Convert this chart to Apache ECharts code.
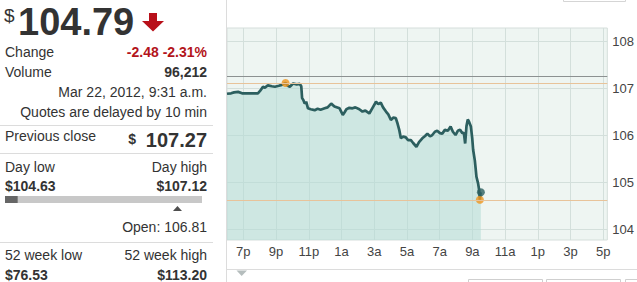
<!DOCTYPE html>
<html><head><meta charset="utf-8">
<script src="https://cdn.jsdelivr.net/npm/echarts@6/dist/echarts.min.js"></script>
<style>html,body{margin:0;padding:0;background:#fff;overflow:hidden}#c{width:637px;height:282px}</style>
</head><body><div id="c"></div>
<script>
// hours since 6p (Mar 21) -> price
const priceTimes = [0.00,0.25,0.43,0.68,0.92,1.41,1.89,2.02,2.20,2.32,2.50,2.74,2.93,3.17,3.35,3.58,3.72,3.84,4.04,4.26,4.45,4.54,4.59,4.66,4.75,4.84,4.95,5.12,5.36,5.54,5.72,5.97,6.15,6.37,6.57,6.88,7.08,7.18,7.30,7.48,7.67,7.85,8.09,8.28,8.46,8.70,8.88,9.11,9.25,9.40,9.54,9.72,9.86,10.02,10.16,10.32,10.43,10.53,10.63,10.77,10.93,11.07,11.24,11.38,11.58,11.74,11.94,12.11,12.25,12.41,12.55,12.71,12.85,13.02,13.16,13.32,13.50,13.67,13.81,13.97,14.11,14.25,14.39,14.48,14.56,14.64,14.72,14.79,14.91,14.99,15.05,15.15,15.20,15.25,15.35,15.41,15.46,15.49,15.52];
const prices = [106.89,106.90,106.92,106.93,106.90,106.90,106.90,106.95,107.04,107.02,107.07,107.05,107.04,107.06,107.08,107.12,107.06,107.04,107.11,107.09,107.10,107.05,106.80,106.76,106.68,106.72,106.58,106.56,106.54,106.57,106.55,106.58,106.60,106.68,106.62,106.58,106.44,106.49,106.56,106.59,106.58,106.60,106.56,106.51,106.53,106.47,106.58,106.72,106.67,106.70,106.60,106.51,106.45,106.33,106.38,106.37,106.25,106.12,105.94,105.98,105.96,105.90,105.90,105.84,105.76,105.86,105.94,105.99,106.04,105.98,106.01,106.08,106.10,106.05,106.04,106.12,106.10,106.19,106.08,106.01,106.10,106.12,106.05,106.06,105.83,106.20,106.34,106.30,106.19,105.95,105.69,105.47,105.30,105.12,104.98,104.85,104.63,104.76,104.79];
const xTickHours = [1,3,5,7,9,11,13,15,17,19,21,23];
const xTickLabels = ['7p','9p','11p','1a','3a','5a','7a','9a','11a','1p','3p','5p'];
const yTicks = [104,105,106,107,108];
const lastPrice = 104.79, lastTime = 15.52;
const prevClose = 107.27;
const dayLow = 104.63, dayLowTime = 15.46;
const dayHigh = 107.12, dayHighTime = 3.58;
const openPrice = 106.81;
const changeText = '-2.48 -2.31%';
const volumeText = '96,212';
const dateText = 'Mar 22, 2012, 9:31 a.m.';
const week52Low = '$76.53', week52High = '$113.20';

const FONT = '"Liberation Sans", Arial, sans-serif';
const TXT = '#333';
function t(text, x, y, size, opts) {
  opts = opts || {};
  const st = {
    text: text, x: x, y: y, fill: opts.fill || TXT,
    font: (opts.bold ? 'bold ' : '') + size + 'px ' + FONT,
    align: opts.align || 'left', verticalAlign: 'middle' };
  return { type: 'text', silent: true, style: st };
}
function hline(x1, x2, y, color) {
  return { type: 'line', silent: true, shape: { x1: x1, y1: y, x2: x2, y2: y }, style: { stroke: color || '#dcdcdc', lineWidth: 1 } };
}

const chart = echarts.init(document.getElementById('c'), null, { renderer: 'svg' });
const R = 207;
chart.setOption({
  animation: false,
  backgroundColor: '#fff',
  grid: [
    { left: 227, top: 28, width: 382, height: 212, show: true, backgroundColor: '#eef5f2', borderColor: '#d5dedb', borderWidth: 1 },
    { left: 5, top: 196, width: 197, height: 7 }
  ],
  xAxis: [
    { type: 'value', gridIndex: 0, min: 0, max: 23.25,
      axisLine: { show: false }, axisTick: { show: false, customValues: xTickHours },
      axisLabel: { customValues: xTickHours, formatter: v => xTickLabels[xTickHours.indexOf(v)], color: '#444', fontSize: 13, fontFamily: FONT, margin: 5 },
      splitLine: { show: true, lineStyle: { color: '#d3dfdb', width: 1 } } },
    { type: 'value', gridIndex: 1, min: dayLow, max: dayHigh, show: false }
  ],
  yAxis: [
    { type: 'value', gridIndex: 0, position: 'right', min: 103.772, max: 108.292,
      axisLine: { show: false }, axisTick: { show: false, customValues: yTicks },
      axisLabel: { customValues: yTicks, color: '#444', fontSize: 13, fontFamily: FONT, margin: 5 },
      splitLine: { show: true, lineStyle: { color: '#d3dfdb', width: 1 } } },
    { type: 'category', gridIndex: 1, data: ['range'], show: false }
  ],
  series: [
    { type: 'line', xAxisIndex: 0, yAxisIndex: 0, z: 3,
      data: priceTimes.map((h, i) => [h, prices[i]]),
      showSymbol: false, symbol: 'none',
      lineStyle: { color: '#2c5f5f', width: 2.7 },
      areaStyle: { color: '#b4dad5', opacity: 0.55 },
      markLine: { silent: true, symbol: ['none', 'none'], label: { show: false },
        data: [
          { yAxis: prevClose, lineStyle: { color: '#8c9191', width: 1, type: 'solid' } },
          { yAxis: dayHigh, lineStyle: { color: '#e8c39a', width: 1, type: 'solid' } },
          { yAxis: dayLow, lineStyle: { color: '#e8c39a', width: 1, type: 'solid' } }
        ] } },
    { type: 'scatter', xAxisIndex: 0, yAxisIndex: 0, z: 4, symbolSize: 8,
      itemStyle: { color: '#f0961e' },
      data: [[dayHighTime, dayHigh], [dayLowTime, dayLow]] },
    { type: 'scatter', xAxisIndex: 0, yAxisIndex: 0, z: 5, symbolSize: 8,
      itemStyle: { color: '#2c5f5f' },
      data: [[lastTime, lastPrice]] },
    { type: 'bar', xAxisIndex: 1, yAxisIndex: 1, barWidth: 7, data: [lastPrice],
      itemStyle: { color: '#666' }, showBackground: true, backgroundStyle: { color: '#c8c8c8' } },
    { type: 'scatter', xAxisIndex: 1, yAxisIndex: 1, symbol: 'triangle', symbolSize: [9, 5], symbolOffset: [0, 9],
      itemStyle: { color: '#222' }, data: [[openPrice, 0]] }
  ],
  graphic: [
    // separators
    { type: 'line', silent: true, shape: { x1: 226.5, y1: 0, x2: 226.5, y2: 282 }, style: { stroke: '#dcdcdc', lineWidth: 1 } },
    hline(0, 213, 125.5), hline(0, 213, 153.5), hline(0, 213, 242.5),
    hline(227, 637, 269.5),
    { type: 'polygon', silent: true, shape: { points: [[236.5, 270.5], [247, 270.5], [241.7, 276]] }, style: { fill: '#b5bdbd' } },
    { type: 'rect', silent: true, shape: { x: 468.5, y: 279.5, width: 74, height: 12 }, style: { fill: 'none', stroke: '#cfcfcf' } },
    { type: 'rect', silent: true, shape: { x: 546.5, y: 279.5, width: 74, height: 12 }, style: { fill: 'none', stroke: '#cfcfcf' } },
    { type: 'rect', silent: true, shape: { x: 625.5, y: 279.5, width: 20, height: 12 }, style: { fill: 'none', stroke: '#cfcfcf' } },
    { type: 'rect', silent: true, shape: { x: 563.5, y: -12, width: 62, height: 13.5 }, style: { fill: 'none', stroke: '#d5d5d5' } },
    // quote header
    t('$', 4, 15, 19),
    t(String(lastPrice.toFixed(2)), 18, 21.5, 38, { bold: true }),
    { type: 'polygon', silent: true, shape: { points: [[149, 13], [157, 13], [157, 21], [164, 21], [153, 31.5], [142, 21], [149, 21]] }, style: { fill: '#b8101a' } },
    t('Change', 5, 52, 14), t(changeText, R, 52, 14, { bold: true, align: 'right', fill: '#b3141b' }),
    t('Volume', 5, 72, 14), t(volumeText, R, 72, 14, { bold: true, align: 'right' }),
    t(dateText, R, 91.5, 14, { align: 'right' }),
    t('Quotes are delayed by 10 min', R, 111.5, 14, { align: 'right' }),
    t('Previous close', 5, 136, 14),
    t('$', 136, 138.5, 14, { bold: true, align: 'right' }),
    t(prevClose.toFixed(2), R, 140, 20, { bold: true, align: 'right' }),
    t('Day low', 5, 166.5, 14), t('Day high', R, 166.5, 14, { align: 'right' }),
    t('$' + dayLow.toFixed(2), 5, 185.5, 14, { bold: true }), t('$' + dayHigh.toFixed(2), R, 185.5, 14, { bold: true, align: 'right' }),
    t('Open: ' + openPrice.toFixed(2), R, 226.5, 14, { align: 'right' }),
    t('52 week low', 5, 255, 14), t('52 week high', R, 255, 14, { align: 'right' }),
    t(week52Low, 5, 274.5, 14, { bold: true }), t(week52High, R, 274.5, 14, { bold: true, align: 'right' })
  ]
});
</script></body></html>
